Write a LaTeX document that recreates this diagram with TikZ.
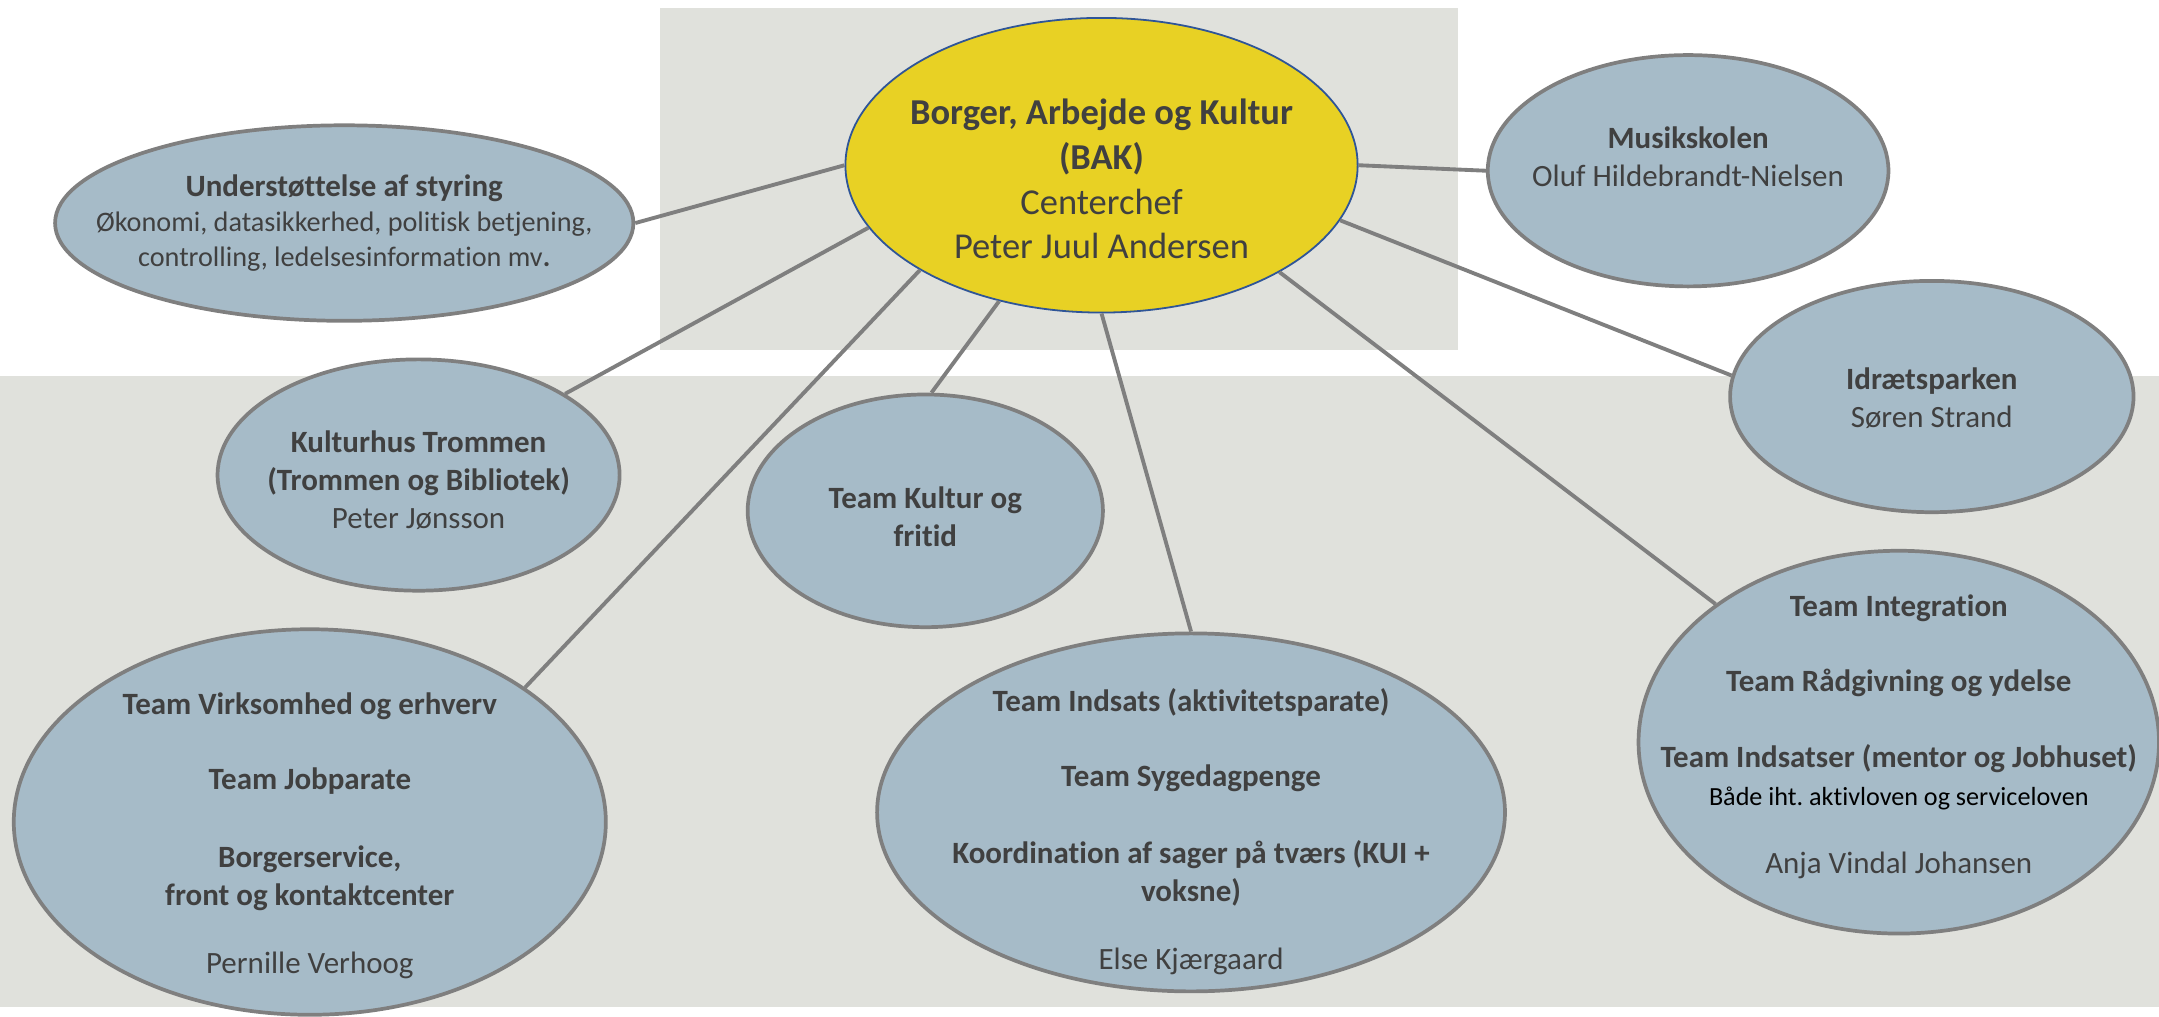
\documentclass[tikz,border=0pt]{standalone}
\usepackage{fontspec}
\setmainfont{Carlito}[Ligatures=NoCommon]
\usetikzlibrary{shapes.geometric}
\frenchspacing

\definecolor{bandgray}{RGB}{224,225,220}
\definecolor{unitblue}{RGB}{166,187,200}
\definecolor{rimgray}{RGB}{127,127,127}
\definecolor{bakyellow}{RGB}{232,209,36}
\definecolor{bakrim}{RGB}{47,85,151}
\definecolor{txtgray}{RGB}{64,64,64}

\begin{document}
\begin{tikzpicture}[x=1pt, y=-1pt,
  unit/.style={ellipse, draw=rimgray, line width=2.7pt, fill=unitblue, inner sep=0pt},
  unittxt/.style={align=center, inner sep=0pt, text=txtgray, font=\fontsize{22.5}{27.5}\selectfont},
  link/.style={draw=rimgray, line width=2.8pt}]

  \useasboundingbox (0,0) rectangle (1568,738);

  % backgrounds
  \fill[bandgray] (0,273) rectangle (1568,731);
  \fill[bandgray] (479,6) rectangle (1059,254);

  % units
  \node[ellipse, draw=bakrim, line width=1.3pt, fill=bakyellow, inner sep=0pt,
        minimum width=372, minimum height=214] (bak) at (800,120) {};
  \node[unit, minimum width=420, minimum height=142] (und) at (250,162) {};
  \node[unit, minimum width=291, minimum height=168] (mus) at (1226,124) {};
  \node[unit, minimum width=293, minimum height=168] (idr) at (1403,288) {};
  \node[unit, minimum width=292, minimum height=168] (kul) at (304,345) {};
  \node[unit, minimum width=258, minimum height=169] (tkf) at (672,371) {};
  \node[unit, minimum width=430, minimum height=280] (vir) at (225,597) {};
  \node[unit, minimum width=456, minimum height=260] (ind) at (865,590) {};
  \node[unit, minimum width=378, minimum height=278] (int) at (1379,539) {};

  % names of units
  \node[unittxt, font=\fontsize{26.5}{32.5}\selectfont] (bak-txt) at (800,130)
    {\textbf{Borger, Arbejde og Kultur}\\ \textbf{(BAK)}\\ Centerchef\\ Peter Juul Andersen};
  \node[unittxt, font=\fontsize{20.5}{25.5}\selectfont] (und-txt) at (250,162)
    {{\fontsize{22.5}{25.5}\selectfont\textbf{Understøttelse af styring}}\\ Økonomi, datasikkerhed, politisk betjening,\\ controlling, ledelsesinformation mv\textbf{.}};
  \node[unittxt] (mus-txt) at (1226,114) {\textbf{Musikskolen}\\ Oluf Hildebrandt-Nielsen};
  \node[unittxt] (idr-txt) at (1403,289) {\textbf{Idrætsparken}\\ Søren Strand};
  \node[unittxt] (kul-txt) at (304,349)
    {\textbf{Kulturhus Trommen}\\ \textbf{(Trommen og Bibliotek)}\\ Peter Jønsson};
  \node[unittxt] (tkf-txt) at (672,375) {\textbf{Team Kultur og}\\ \textbf{fritid}};
  \node[unittxt] (vir-txt) at (225,607)
    {\textbf{Team Virksomhed og erhverv}\\[27pt] \textbf{Team Jobparate}\\[29pt]
     \textbf{Borgerservice,}\\ \textbf{front og kontaktcenter}\\[22pt] Pernille Verhoog};
  \node[unittxt] (ind-txt) at (865,604)
    {\textbf{Team Indsats (aktivitetsparate)}\\[27pt] \textbf{Team Sygedagpenge}\\[29pt]
     \textbf{Koordination af sager på tværs (KUI +}\\ \textbf{voksne)}\\[22pt] Else Kjærgaard};
  \node[unittxt] (int-txt) at (1379,535)
    {\textbf{Team Integration}\\[27pt] \textbf{Team Rådgivning og ydelse}\\[28pt]
     \textbf{Team Indsatser (mentor og Jobhuset)}\\
     {\color{black}\fontsize{19}{26}\selectfont Både iht. aktivloven og serviceloven}\\[22pt]
     Anja Vindal Johansen};

  % links
  \draw[link] (bak.180) -- (und.0);
  \draw[link] (bak.195) -- (kul.29.5);
  \draw[link] (bak.210.6) -- (vir.32.6);
  \draw[link] (bak.233.6) -- (tkf.87);
  \draw[link] (bak.270) -- (ind.90);
  \draw[link] (bak.329.7) -- (int.143.5);
  \draw[link] (bak.347.4) -- (idr.174);
  \draw[link] (bak.0) -- (mus.180);

\end{tikzpicture}
\end{document}
